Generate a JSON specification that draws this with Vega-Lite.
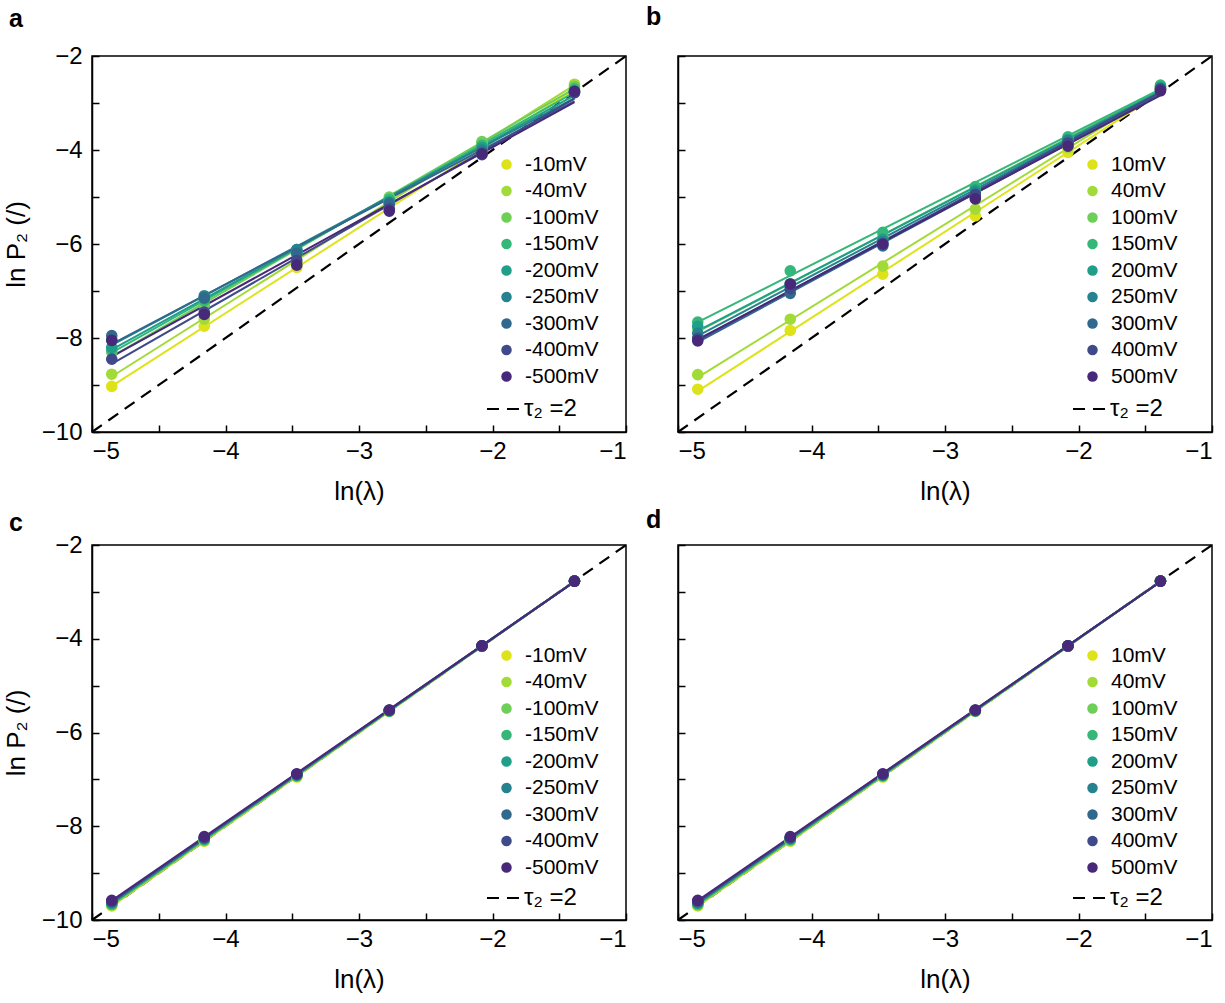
{
"$schema":"https://vega.github.io/schema/vega-lite/v6.json",
"padding":{"left":2,"top":3,"right":0,"bottom":0},
"columns":2,
"spacing":{"row":1,"column":13},
"resolve":{"scale":{"color":"independent","strokeDash":"independent","x":"independent","y":"independent"},"legend":{"color":"independent","strokeDash":"independent"}},
"datasets":{
"ref":[{"x":-5,"y":-10},{"x":-1,"y":-2}],
"pa":[
{"s":"-10mV","x":-4.852,"y":-9.03},{"s":"-10mV","x":-4.159,"y":-7.75},{"s":"-10mV","x":-3.466,"y":-6.5},{"s":"-10mV","x":-2.773,"y":-5.25},{"s":"-10mV","x":-2.079,"y":-3.95},{"s":"-10mV","x":-1.386,"y":-2.72},
{"s":"-40mV","x":-4.852,"y":-8.77},{"s":"-40mV","x":-4.159,"y":-7.6},{"s":"-40mV","x":-3.466,"y":-6.4},{"s":"-40mV","x":-2.773,"y":-5.1},{"s":"-40mV","x":-2.079,"y":-3.85},{"s":"-40mV","x":-1.386,"y":-2.6},
{"s":"-100mV","x":-4.852,"y":-8.3},{"s":"-100mV","x":-4.159,"y":-7.3},{"s":"-100mV","x":-3.466,"y":-6.2},{"s":"-100mV","x":-2.773,"y":-5.0},{"s":"-100mV","x":-2.079,"y":-3.82},{"s":"-100mV","x":-1.386,"y":-2.65},
{"s":"-150mV","x":-4.852,"y":-8.25},{"s":"-150mV","x":-4.159,"y":-7.2},{"s":"-150mV","x":-3.466,"y":-6.15},{"s":"-150mV","x":-2.773,"y":-5.05},{"s":"-150mV","x":-2.079,"y":-3.9},{"s":"-150mV","x":-1.386,"y":-2.7},
{"s":"-200mV","x":-4.852,"y":-8.2},{"s":"-200mV","x":-4.159,"y":-7.15},{"s":"-200mV","x":-3.466,"y":-6.12},{"s":"-200mV","x":-2.773,"y":-5.1},{"s":"-200mV","x":-2.079,"y":-3.95},{"s":"-200mV","x":-1.386,"y":-2.75},
{"s":"-250mV","x":-4.852,"y":-8.05},{"s":"-250mV","x":-4.159,"y":-7.1},{"s":"-250mV","x":-3.466,"y":-6.12},{"s":"-250mV","x":-2.773,"y":-5.12},{"s":"-250mV","x":-2.079,"y":-4.0},{"s":"-250mV","x":-1.386,"y":-2.75},
{"s":"-300mV","x":-4.852,"y":-7.95},{"s":"-300mV","x":-4.159,"y":-7.15},{"s":"-300mV","x":-3.466,"y":-6.2},{"s":"-300mV","x":-2.773,"y":-5.15},{"s":"-300mV","x":-2.079,"y":-4.05},{"s":"-300mV","x":-1.386,"y":-2.78},
{"s":"-400mV","x":-4.852,"y":-8.45},{"s":"-400mV","x":-4.159,"y":-7.45},{"s":"-400mV","x":-3.466,"y":-6.35},{"s":"-400mV","x":-2.773,"y":-5.25},{"s":"-400mV","x":-2.079,"y":-4.1},{"s":"-400mV","x":-1.386,"y":-2.78},
{"s":"-500mV","x":-4.852,"y":-8.05},{"s":"-500mV","x":-4.159,"y":-7.5},{"s":"-500mV","x":-3.466,"y":-6.45},{"s":"-500mV","x":-2.773,"y":-5.3},{"s":"-500mV","x":-2.079,"y":-4.08},{"s":"-500mV","x":-1.386,"y":-2.75}
],
"pb":[
{"s":"10mV","x":-4.852,"y":-9.09},{"s":"10mV","x":-4.159,"y":-7.84},{"s":"10mV","x":-3.466,"y":-6.64},{"s":"10mV","x":-2.773,"y":-5.4},{"s":"10mV","x":-2.079,"y":-4.05},{"s":"10mV","x":-1.386,"y":-2.72},
{"s":"40mV","x":-4.852,"y":-8.78},{"s":"40mV","x":-4.159,"y":-7.6},{"s":"40mV","x":-3.466,"y":-6.47},{"s":"40mV","x":-2.773,"y":-5.26},{"s":"40mV","x":-2.079,"y":-3.95},{"s":"40mV","x":-1.386,"y":-2.68},
{"s":"100mV","x":-4.852,"y":-7.8},{"s":"100mV","x":-4.159,"y":-6.85},{"s":"100mV","x":-3.466,"y":-5.85},{"s":"100mV","x":-2.773,"y":-4.85},{"s":"100mV","x":-2.079,"y":-3.75},{"s":"100mV","x":-1.386,"y":-2.65},
{"s":"150mV","x":-4.852,"y":-7.66},{"s":"150mV","x":-4.159,"y":-6.57},{"s":"150mV","x":-3.466,"y":-5.75},{"s":"150mV","x":-2.773,"y":-4.78},{"s":"150mV","x":-2.079,"y":-3.72},{"s":"150mV","x":-1.386,"y":-2.62},
{"s":"200mV","x":-4.852,"y":-7.75},{"s":"200mV","x":-4.159,"y":-6.85},{"s":"200mV","x":-3.466,"y":-5.9},{"s":"200mV","x":-2.773,"y":-4.85},{"s":"200mV","x":-2.079,"y":-3.78},{"s":"200mV","x":-1.386,"y":-2.66},
{"s":"250mV","x":-4.852,"y":-7.9},{"s":"250mV","x":-4.159,"y":-6.9},{"s":"250mV","x":-3.466,"y":-5.95},{"s":"250mV","x":-2.773,"y":-4.9},{"s":"250mV","x":-2.079,"y":-3.8},{"s":"250mV","x":-1.386,"y":-2.7},
{"s":"300mV","x":-4.852,"y":-8.0},{"s":"300mV","x":-4.159,"y":-7.05},{"s":"300mV","x":-3.466,"y":-6.04},{"s":"300mV","x":-2.773,"y":-5.0},{"s":"300mV","x":-2.079,"y":-3.88},{"s":"300mV","x":-1.386,"y":-2.72},
{"s":"400mV","x":-4.852,"y":-8.02},{"s":"400mV","x":-4.159,"y":-6.95},{"s":"400mV","x":-3.466,"y":-6.0},{"s":"400mV","x":-2.773,"y":-4.95},{"s":"400mV","x":-2.079,"y":-3.85},{"s":"400mV","x":-1.386,"y":-2.7},
{"s":"500mV","x":-4.852,"y":-8.06},{"s":"500mV","x":-4.159,"y":-6.85},{"s":"500mV","x":-3.466,"y":-6.0},{"s":"500mV","x":-2.773,"y":-5.04},{"s":"500mV","x":-2.079,"y":-3.92},{"s":"500mV","x":-1.386,"y":-2.74}
],
"pc":[
{"s":"-10mV","x":-4.852,"y":-9.7},{"s":"-10mV","x":-4.159,"y":-8.32},{"s":"-10mV","x":-3.466,"y":-6.95},{"s":"-10mV","x":-2.773,"y":-5.55},{"s":"-10mV","x":-2.079,"y":-4.16},{"s":"-10mV","x":-1.386,"y":-2.77},
{"s":"-40mV","x":-4.852,"y":-9.69},{"s":"-40mV","x":-4.159,"y":-8.31},{"s":"-40mV","x":-3.466,"y":-6.94},{"s":"-40mV","x":-2.773,"y":-5.55},{"s":"-40mV","x":-2.079,"y":-4.16},{"s":"-40mV","x":-1.386,"y":-2.77},
{"s":"-100mV","x":-4.852,"y":-9.67},{"s":"-100mV","x":-4.159,"y":-8.3},{"s":"-100mV","x":-3.466,"y":-6.93},{"s":"-100mV","x":-2.773,"y":-5.54},{"s":"-100mV","x":-2.079,"y":-4.16},{"s":"-100mV","x":-1.386,"y":-2.77},
{"s":"-150mV","x":-4.852,"y":-9.66},{"s":"-150mV","x":-4.159,"y":-8.28},{"s":"-150mV","x":-3.466,"y":-6.92},{"s":"-150mV","x":-2.773,"y":-5.54},{"s":"-150mV","x":-2.079,"y":-4.16},{"s":"-150mV","x":-1.386,"y":-2.77},
{"s":"-200mV","x":-4.852,"y":-9.64},{"s":"-200mV","x":-4.159,"y":-8.27},{"s":"-200mV","x":-3.466,"y":-6.91},{"s":"-200mV","x":-2.773,"y":-5.54},{"s":"-200mV","x":-2.079,"y":-4.15},{"s":"-200mV","x":-1.386,"y":-2.77},
{"s":"-250mV","x":-4.852,"y":-9.63},{"s":"-250mV","x":-4.159,"y":-8.26},{"s":"-250mV","x":-3.466,"y":-6.9},{"s":"-250mV","x":-2.773,"y":-5.53},{"s":"-250mV","x":-2.079,"y":-4.15},{"s":"-250mV","x":-1.386,"y":-2.77},
{"s":"-300mV","x":-4.852,"y":-9.61},{"s":"-300mV","x":-4.159,"y":-8.25},{"s":"-300mV","x":-3.466,"y":-6.9},{"s":"-300mV","x":-2.773,"y":-5.53},{"s":"-300mV","x":-2.079,"y":-4.15},{"s":"-300mV","x":-1.386,"y":-2.77},
{"s":"-400mV","x":-4.852,"y":-9.6},{"s":"-400mV","x":-4.159,"y":-8.24},{"s":"-400mV","x":-3.466,"y":-6.89},{"s":"-400mV","x":-2.773,"y":-5.52},{"s":"-400mV","x":-2.079,"y":-4.15},{"s":"-400mV","x":-1.386,"y":-2.77},
{"s":"-500mV","x":-4.852,"y":-9.58},{"s":"-500mV","x":-4.159,"y":-8.22},{"s":"-500mV","x":-3.466,"y":-6.88},{"s":"-500mV","x":-2.773,"y":-5.52},{"s":"-500mV","x":-2.079,"y":-4.15},{"s":"-500mV","x":-1.386,"y":-2.77}
],
"pd":[
{"s":"10mV","x":-4.852,"y":-9.7},{"s":"10mV","x":-4.159,"y":-8.32},{"s":"10mV","x":-3.466,"y":-6.95},{"s":"10mV","x":-2.773,"y":-5.55},{"s":"10mV","x":-2.079,"y":-4.16},{"s":"10mV","x":-1.386,"y":-2.77},
{"s":"40mV","x":-4.852,"y":-9.69},{"s":"40mV","x":-4.159,"y":-8.31},{"s":"40mV","x":-3.466,"y":-6.94},{"s":"40mV","x":-2.773,"y":-5.55},{"s":"40mV","x":-2.079,"y":-4.16},{"s":"40mV","x":-1.386,"y":-2.77},
{"s":"100mV","x":-4.852,"y":-9.67},{"s":"100mV","x":-4.159,"y":-8.3},{"s":"100mV","x":-3.466,"y":-6.93},{"s":"100mV","x":-2.773,"y":-5.54},{"s":"100mV","x":-2.079,"y":-4.16},{"s":"100mV","x":-1.386,"y":-2.77},
{"s":"150mV","x":-4.852,"y":-9.66},{"s":"150mV","x":-4.159,"y":-8.28},{"s":"150mV","x":-3.466,"y":-6.92},{"s":"150mV","x":-2.773,"y":-5.54},{"s":"150mV","x":-2.079,"y":-4.16},{"s":"150mV","x":-1.386,"y":-2.77},
{"s":"200mV","x":-4.852,"y":-9.64},{"s":"200mV","x":-4.159,"y":-8.27},{"s":"200mV","x":-3.466,"y":-6.91},{"s":"200mV","x":-2.773,"y":-5.54},{"s":"200mV","x":-2.079,"y":-4.15},{"s":"200mV","x":-1.386,"y":-2.77},
{"s":"250mV","x":-4.852,"y":-9.63},{"s":"250mV","x":-4.159,"y":-8.26},{"s":"250mV","x":-3.466,"y":-6.9},{"s":"250mV","x":-2.773,"y":-5.53},{"s":"250mV","x":-2.079,"y":-4.15},{"s":"250mV","x":-1.386,"y":-2.77},
{"s":"300mV","x":-4.852,"y":-9.61},{"s":"300mV","x":-4.159,"y":-8.25},{"s":"300mV","x":-3.466,"y":-6.9},{"s":"300mV","x":-2.773,"y":-5.53},{"s":"300mV","x":-2.079,"y":-4.15},{"s":"300mV","x":-1.386,"y":-2.77},
{"s":"400mV","x":-4.852,"y":-9.6},{"s":"400mV","x":-4.159,"y":-8.24},{"s":"400mV","x":-3.466,"y":-6.89},{"s":"400mV","x":-2.773,"y":-5.52},{"s":"400mV","x":-2.079,"y":-4.15},{"s":"400mV","x":-1.386,"y":-2.77},
{"s":"500mV","x":-4.852,"y":-9.58},{"s":"500mV","x":-4.159,"y":-8.22},{"s":"500mV","x":-3.466,"y":-6.88},{"s":"500mV","x":-2.773,"y":-5.52},{"s":"500mV","x":-2.079,"y":-4.15},{"s":"500mV","x":-1.386,"y":-2.77}
]
},
"concat":[
{"width":534,"height":376,
 "title":{"text":"a","dx":-83,"offset":12},
 "encoding":{
  "x":{"field":"x","type":"quantitative","scale":{"domain":[-5,-1],"nice":false,"zero":false},"axis":{"title":"ln(λ)","values":[-5,-4.5,-4,-3.5,-3,-2.5,-2,-1.5,-1],"labelExpr":"datum.value % 1 == 0 ? format(datum.value, 'd') : ''"}},
  "y":{"field":"y","type":"quantitative","scale":{"domain":[-10,-2],"nice":false,"zero":false},"axis":{"title":"ln P₂ (/)","values":[-10,-9,-8,-7,-6,-5,-4,-3,-2],"labelExpr":"datum.value % 2 == 0 ? format(datum.value, 'd') : ''"}}},
 "layer":[
  {"data":{"name":"ref"},"mark":{"type":"line","color":"black","strokeWidth":2.2},
   "encoding":{"strokeDash":{"datum":"τ₂ =2","type":"nominal","scale":{"range":[[12,8]]},"legend":{"orient":"none","legendX":394,"legendY":336,"title":null,"symbolType":"stroke","symbolSize":1024,"symbolStrokeColor":"black","symbolStrokeWidth":2,"labelOffset":4,"labelFontSize":24}}}},
  {"data":{"name":"pa"},"transform":[{"regression":"y","on":"x","groupby":["s"]}],"mark":{"type":"line","strokeWidth":2},
   "encoding":{"color":{"field":"s","type":"nominal","scale":{"domain":["-10mV","-40mV","-100mV","-150mV","-200mV","-250mV","-300mV","-400mV","-500mV"],"range":["#dde318","#a2da37","#6ece58","#35b779","#1f9e89","#26828e","#31688e","#3e4a89","#482878"]}}}},
  {"data":{"name":"pa"},"mark":{"type":"circle","size":135,"opacity":1},
   "encoding":{"color":{"field":"s","type":"nominal","scale":{"domain":["-10mV","-40mV","-100mV","-150mV","-200mV","-250mV","-300mV","-400mV","-500mV"],"range":["#dde318","#a2da37","#6ece58","#35b779","#1f9e89","#26828e","#31688e","#3e4a89","#482878"]},"legend":{"orient":"none","legendX":404,"legendY":98,"title":null,"symbolType":"circle","symbolSize":110,"labelOffset":8,"rowPadding":4.5,"symbolStrokeWidth":0}}}}
 ]},
{"width":534,"height":376,
 "title":{"text":"b","dx":-32,"offset":22},
 "encoding":{
  "x":{"field":"x","type":"quantitative","scale":{"domain":[-5,-1],"nice":false,"zero":false},"axis":{"title":"ln(λ)","values":[-5,-4.5,-4,-3.5,-3,-2.5,-2,-1.5,-1],"labelExpr":"datum.value % 1 == 0 ? format(datum.value, 'd') : ''"}},
  "y":{"field":"y","type":"quantitative","scale":{"domain":[-10,-2],"nice":false,"zero":false},"axis":{"title":null,"labels":false,"values":[-10,-9,-8,-7,-6,-5,-4,-3,-2]}}},
 "layer":[
  {"data":{"name":"ref"},"mark":{"type":"line","color":"black","strokeWidth":2.2},
   "encoding":{"strokeDash":{"datum":"τ₂ =2","type":"nominal","scale":{"range":[[12,8]]},"legend":{"orient":"none","legendX":394,"legendY":336,"title":null,"symbolType":"stroke","symbolSize":1024,"symbolStrokeColor":"black","symbolStrokeWidth":2,"labelOffset":4,"labelFontSize":24}}}},
  {"data":{"name":"pb"},"transform":[{"regression":"y","on":"x","groupby":["s"]}],"mark":{"type":"line","strokeWidth":2},
   "encoding":{"color":{"field":"s","type":"nominal","scale":{"domain":["10mV","40mV","100mV","150mV","200mV","250mV","300mV","400mV","500mV"],"range":["#dde318","#a2da37","#6ece58","#35b779","#1f9e89","#26828e","#31688e","#3e4a89","#482878"]}}}},
  {"data":{"name":"pb"},"mark":{"type":"circle","size":135,"opacity":1},
   "encoding":{"color":{"field":"s","type":"nominal","scale":{"domain":["10mV","40mV","100mV","150mV","200mV","250mV","300mV","400mV","500mV"],"range":["#dde318","#a2da37","#6ece58","#35b779","#1f9e89","#26828e","#31688e","#3e4a89","#482878"]},"legend":{"orient":"none","legendX":404,"legendY":98,"title":null,"symbolType":"circle","symbolSize":110,"labelOffset":8,"rowPadding":4.5,"symbolStrokeWidth":0}}}}
 ]},
{"width":534,"height":375,
 "title":{"text":"c","dx":-83,"offset":-3},
 "encoding":{
  "x":{"field":"x","type":"quantitative","scale":{"domain":[-5,-1],"nice":false,"zero":false},"axis":{"title":"ln(λ)","values":[-5,-4.5,-4,-3.5,-3,-2.5,-2,-1.5,-1],"labelExpr":"datum.value % 1 == 0 ? format(datum.value, 'd') : ''"}},
  "y":{"field":"y","type":"quantitative","scale":{"domain":[-10,-2],"nice":false,"zero":false},"axis":{"title":"ln P₂ (/)","values":[-10,-9,-8,-7,-6,-5,-4,-3,-2],"labelExpr":"datum.value % 2 == 0 ? format(datum.value, 'd') : ''"}}},
 "layer":[
  {"data":{"name":"ref"},"mark":{"type":"line","color":"black","strokeWidth":2.2},
   "encoding":{"strokeDash":{"datum":"τ₂ =2","type":"nominal","scale":{"range":[[12,8]]},"legend":{"orient":"none","legendX":394,"legendY":336,"title":null,"symbolType":"stroke","symbolSize":1024,"symbolStrokeColor":"black","symbolStrokeWidth":2,"labelOffset":4,"labelFontSize":24}}}},
  {"data":{"name":"pc"},"transform":[{"regression":"y","on":"x","groupby":["s"]}],"mark":{"type":"line","strokeWidth":2},
   "encoding":{"color":{"field":"s","type":"nominal","scale":{"domain":["-10mV","-40mV","-100mV","-150mV","-200mV","-250mV","-300mV","-400mV","-500mV"],"range":["#dde318","#a2da37","#6ece58","#35b779","#1f9e89","#26828e","#31688e","#3e4a89","#482878"]}}}},
  {"data":{"name":"pc"},"mark":{"type":"circle","size":135,"opacity":1},
   "encoding":{"color":{"field":"s","type":"nominal","scale":{"domain":["-10mV","-40mV","-100mV","-150mV","-200mV","-250mV","-300mV","-400mV","-500mV"],"range":["#dde318","#a2da37","#6ece58","#35b779","#1f9e89","#26828e","#31688e","#3e4a89","#482878"]},"legend":{"orient":"none","legendX":404,"legendY":100,"title":null,"symbolType":"circle","symbolSize":110,"labelOffset":8,"rowPadding":4.5,"symbolStrokeWidth":0}}}}
 ]},
{"width":534,"height":375,
 "title":{"text":"d","dx":-32,"offset":8},
 "encoding":{
  "x":{"field":"x","type":"quantitative","scale":{"domain":[-5,-1],"nice":false,"zero":false},"axis":{"title":"ln(λ)","values":[-5,-4.5,-4,-3.5,-3,-2.5,-2,-1.5,-1],"labelExpr":"datum.value % 1 == 0 ? format(datum.value, 'd') : ''"}},
  "y":{"field":"y","type":"quantitative","scale":{"domain":[-10,-2],"nice":false,"zero":false},"axis":{"title":null,"labels":false,"values":[-10,-9,-8,-7,-6,-5,-4,-3,-2]}}},
 "layer":[
  {"data":{"name":"ref"},"mark":{"type":"line","color":"black","strokeWidth":2.2},
   "encoding":{"strokeDash":{"datum":"τ₂ =2","type":"nominal","scale":{"range":[[12,8]]},"legend":{"orient":"none","legendX":394,"legendY":336,"title":null,"symbolType":"stroke","symbolSize":1024,"symbolStrokeColor":"black","symbolStrokeWidth":2,"labelOffset":4,"labelFontSize":24}}}},
  {"data":{"name":"pd"},"transform":[{"regression":"y","on":"x","groupby":["s"]}],"mark":{"type":"line","strokeWidth":2},
   "encoding":{"color":{"field":"s","type":"nominal","scale":{"domain":["10mV","40mV","100mV","150mV","200mV","250mV","300mV","400mV","500mV"],"range":["#dde318","#a2da37","#6ece58","#35b779","#1f9e89","#26828e","#31688e","#3e4a89","#482878"]}}}},
  {"data":{"name":"pd"},"mark":{"type":"circle","size":135,"opacity":1},
   "encoding":{"color":{"field":"s","type":"nominal","scale":{"domain":["10mV","40mV","100mV","150mV","200mV","250mV","300mV","400mV","500mV"],"range":["#dde318","#a2da37","#6ece58","#35b779","#1f9e89","#26828e","#31688e","#3e4a89","#482878"]},"legend":{"orient":"none","legendX":404,"legendY":100,"title":null,"symbolType":"circle","symbolSize":110,"labelOffset":8,"rowPadding":4.5,"symbolStrokeWidth":0}}}}
 ]}
],
"config":{
 "font":"Liberation Sans",
 "background":"white",
 "view":{"stroke":"black","strokeWidth":1.5},
 "axis":{"domainColor":"black","domainWidth":1.5,"tickColor":"black","tickWidth":1.5,"tickSize":-7,"labelFont":"Liberation Sans","labelFontSize":24,"labelColor":"black","labelPadding":14,"titleFont":"Liberation Sans","titleFontSize":26,"titleFontWeight":"normal","titleColor":"black","grid":false},
 "axisY":{"titlePadding":12,"labelPadding":17},
 "axisX":{"titlePadding":15},
 "legend":{"labelFont":"Liberation Sans","labelFontSize":21,"labelColor":"black"},
 "title":{"anchor":"start","frame":"group","fontSize":25,"fontWeight":"bold","font":"Liberation Sans","color":"black"}
}
}
